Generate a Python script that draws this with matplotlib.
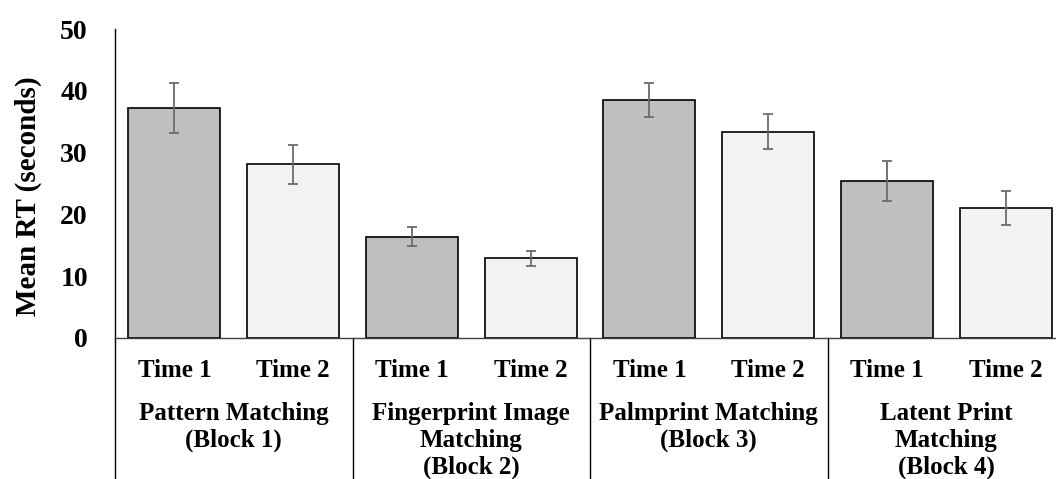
import matplotlib.pyplot as plt
import numpy as np

# Werte
blocks = ["Pattern Matching\n(Block 1)",
          "Fingerprint Image\nMatching\n(Block 2)",
          "Palmprint Matching\n(Block 3)",
          "Latent Print\nMatching\n(Block 4)"]
times = ["Time 1", "Time 2"]
mean_time1 = [37.2, 16.4, 38.5, 25.4]
mean_time2 = [28.1, 12.9, 33.4, 21.0]
err_time1 = [4.0, 1.5, 2.8, 3.2]
err_time2 = [3.2, 1.2, 2.8, 2.7]

plt.rcParams['font.family'] = ['Liberation Serif', 'DejaVu Serif']
plt.rcParams['font.weight'] = 'bold'

fig = plt.figure(figsize=(10.56, 4.79), dpi=100)
# Achse ragt rechts etwas aus dem Bild (wie im Original abgeschnitten)
ax = fig.add_axes([115 / 1056, 141.3 / 479, 950 / 1056, 308.5 / 479])

# Balken abwechselnd Time 1 / Time 2 pro Block
means = []
errs = []
colors = []
for m1, m2, e1, e2 in zip(mean_time1, mean_time2, err_time1, err_time2):
    means += [m1, m2]
    errs += [e1, e2]
    colors += ['#bfbfbf', '#f2f2f2']
x = np.arange(len(means))

ax.bar(x, means, width=0.775, color=colors, edgecolor='black', linewidth=1.2,
       yerr=errs, error_kw=dict(ecolor='#6b6b6b', elinewidth=1.3, capsize=3.6, capthick=1.3),
       zorder=2)

ax.set_xlim(-0.5, len(means) - 0.5)
ax.set_ylim(0, 50)
ax.set_yticks([0, 10, 20, 30, 40, 50])
ax.tick_params(axis='y', length=0, pad=19.5, labelsize=20)
ax.set_xticks([])
for lbl in ax.get_yticklabels():
    lbl.set_fontweight('bold')

ax.spines['top'].set_visible(False)
ax.spines['right'].set_visible(False)
ax.spines['left'].set_linewidth(1.0)
ax.spines['bottom'].set_linewidth(1.0)
ax.spines['bottom'].set_color('#404040')

ax.set_ylabel('Mean RT (seconds)', fontsize=21, fontweight='bold')
ax.yaxis.set_label_coords(-0.077, 0.46)

# Trennlinien zwischen den Bloecken unterhalb der Achse
for k in range(len(blocks) + 1):
    ax.plot([2 * k - 0.5, 2 * k - 0.5], [0, -0.5], color='black', linewidth=1.0,
            transform=ax.get_xaxis_transform(), clip_on=False)

# Beschriftungen Time 1 / Time 2
for i in x:
    ax.text(i, -0.126, times[i % 2], transform=ax.get_xaxis_transform(),
            ha='center', va='baseline', fontsize=18, fontweight='bold')

# Blockbeschriftungen, Zeile fuer Zeile
for k, name in enumerate(blocks):
    for j, line in enumerate(name.split('\n')):
        ax.text(2 * k + 0.5, -0.267 - j * 0.0866, line, transform=ax.get_xaxis_transform(),
                ha='center', va='baseline', fontsize=18, fontweight='bold')

plt.savefig('out.png', dpi=100)
